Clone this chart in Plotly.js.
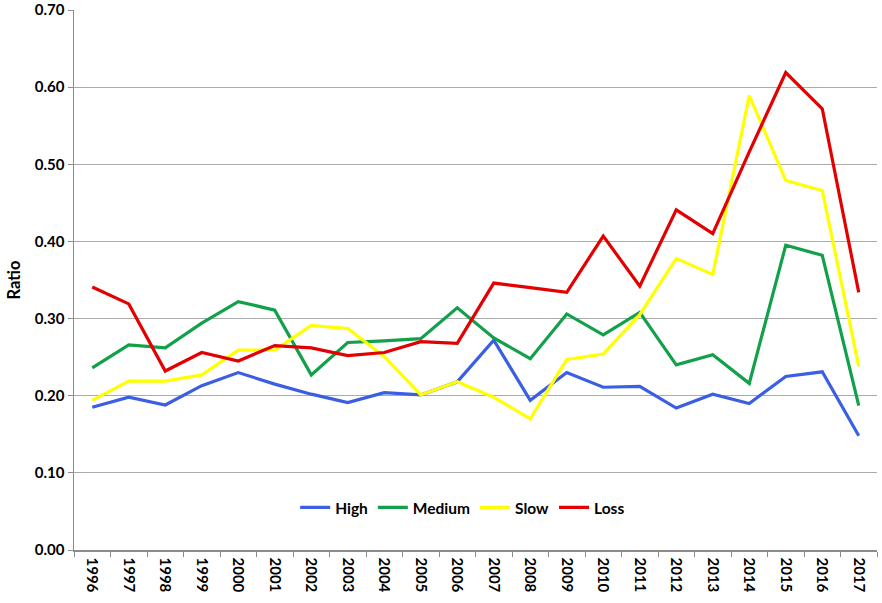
<!DOCTYPE html>
<html><head><meta charset="utf-8">
<script src="https://cdn.plot.ly/plotly-3.0.1.min.js"></script>
<style>html,body{margin:0;padding:0;background:#fff}#c{width:882px;height:603px}</style>
</head><body><div id="c"></div>
<script>
const years = ["1996","1997","1998","1999","2000","2001","2002","2003","2004","2005","2006","2007","2008","2009","2010","2011","2012","2013","2014","2015","2016","2017"];
const high   = [0.185,0.198,0.188,0.213,0.230,0.215,0.202,0.191,0.204,0.201,0.218,0.272,0.194,0.230,0.211,0.212,0.184,0.202,0.190,0.225,0.231,0.148];
const medium = [0.236,0.266,0.262,0.294,0.322,0.311,0.227,0.269,0.271,0.274,0.314,0.275,0.248,0.306,0.279,0.308,0.240,0.253,0.216,0.395,0.382,0.187];
const slow   = [0.194,0.219,0.219,0.227,0.259,0.259,0.291,0.287,0.251,0.201,0.218,0.198,0.170,0.247,0.254,0.305,0.378,0.357,0.589,0.479,0.466,0.238];
const loss   = [0.341,0.319,0.232,0.256,0.245,0.265,0.262,0.252,0.256,0.270,0.268,0.346,0.340,0.334,0.407,0.342,0.441,0.410,0.516,0.619,0.572,0.334];
const names = ["High","Medium","Slow","Loss"];
const colors = ["#3a5fe3","#13a04a","#ffff00","#e20000"];
const series = [high, medium, slow, loss];
const font = "Lato, 'Open Sans', 'Liberation Sans', sans-serif";
const traces = series.map((s,i)=>({
  x: years, y: s, name: names[i], type: "scatter", mode: "lines",
  line: {color: colors[i], width: 3.2}
}));
const layout = {
  width: 882, height: 603,
  margin: {l:74, r:5, t:10, b:53},
  paper_bgcolor: "#fff", plot_bgcolor: "#fff",
  font: {family: font, size: 15, color: "#000"},
  showlegend: true,
  legend: {orientation: "h", x: 0.484, xanchor: "center", y: 0.078, yanchor: "middle",
           font: {family: font, size: 15.5, color: "#000", weight: "bold"}, bgcolor: "rgba(0,0,0,0)", itemwidth: 30},
  xaxis: {type: "category", tickangle: 90, showgrid: false, showline: true, linecolor: "#8c8c8c", linewidth: 1.5,
          ticks: "outside", tickson: "boundaries", ticklen: 5, tickcolor: "#8c8c8c", ticklabelstandoff: 3,
          tickfont: {family: font, size: 15, weight: "bold"}, range: [-0.5, 21.5], fixedrange: true},
  yaxis: {range: [0, 0.70], dtick: 0.1, tickformat: ".2f", showgrid: true, gridcolor: "#ababab", gridwidth: 1,
          showline: true, linecolor: "#8c8c8c", linewidth: 1.5, ticks: "outside", ticklen: 5, tickcolor: "#8c8c8c",
          zeroline: false, tickfont: {family: font, size: 15, weight: "bold"},
          title: {text: "Ratio", font: {family: font, size: 16.5, weight: "bold"}, standoff: 10}}
};
Plotly.newPlot("c", traces, layout, {displayModeBar: false, staticPlot: true});
</script></body></html>
